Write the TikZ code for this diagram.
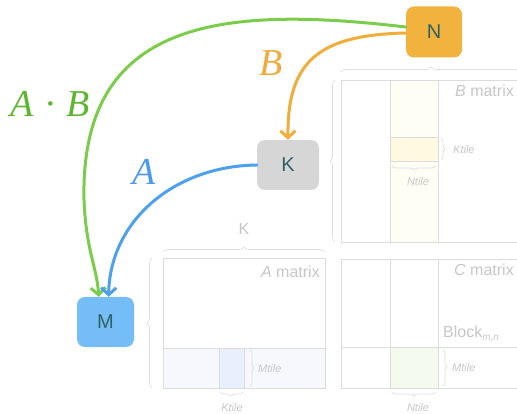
\documentclass[tikz,border=0pt]{standalone}
\usepackage{fontspec}
\setmainfont{Liberation Sans}
\newfontfamily\lblfont{Liberation Serif}
\usetikzlibrary{arrows.meta,decorations.pathreplacing}
\definecolor{nfill}{HTML}{F2B23E}
\definecolor{kfill}{HTML}{D6D6D6}
\definecolor{mfill}{HTML}{74BDF6}
\definecolor{nodetext}{HTML}{2E6263}
\definecolor{greenc}{HTML}{7ACC4A}
\definecolor{greenl}{HTML}{5DB532}
\definecolor{orangec}{HTML}{F0AD3A}
\definecolor{orangel}{HTML}{F2AA3C}
\definecolor{bluec}{HTML}{4DA0F0}
\definecolor{bluel}{HTML}{4A9BF0}
\definecolor{gline}{HTML}{DCDCDC}
\definecolor{bline}{HTML}{DEDEDE}
\definecolor{gtext}{HTML}{C6C6C6}
\definecolor{bcol}{HTML}{FFFEF4}
\definecolor{btile}{HTML}{FFF9E2}
\definecolor{arow}{HTML}{F6F8FE}
\definecolor{atile}{HTML}{E9EFFC}
\definecolor{ctile}{HTML}{F4FAEE}
\begin{document}
\begin{tikzpicture}[x=1pt,y=-1pt,
  box/.style={rounded corners=8pt, minimum width=56pt, minimum height=51pt, inner sep=0pt, text=nodetext, font=\fontsize{20}{20}\selectfont},
  frame/.style={draw=gline, line width=0.8pt},
  brc/.style={draw=bline, line width=0.7pt, decorate, decoration={brace, amplitude=5pt}},
  sbrc/.style={draw=bline, line width=0.7pt, decorate, decoration={brace, amplitude=4pt}},
  mlabel/.style={text=gtext, font=\fontsize{16}{16}\selectfont, inner sep=0pt, anchor=base east},
  tlabel/.style={text=gtext, font=\fontsize{11}{11}\selectfont\itshape, inner sep=0pt},
  conn/.style={line width=3pt, line cap=round, line join=round, -{Straight Barb[length=7pt,width=15pt]}},
  elabel/.style={font=\fontsize{38}{38}\selectfont\lblfont\itshape, inner sep=0pt}
]
\path[use as bounding box] (0,0) rectangle (517,414);
\begin{scope}
\clip (0,0) rectangle (517,414);
% B matrix
\fill[bcol] (390,80) rectangle (438,242);
\fill[btile] (390,137) rectangle (438,161);
\draw[frame] (341,80) rectangle (525,242);
\draw[frame] (390,80) -- (390,242) (438,80) -- (438,242);
\draw[frame] (390,137) -- (438,137) (390,161) -- (438,161);
% A matrix
\fill[arow] (163,348) rectangle (325,388);
\fill[atile] (219,348) rectangle (244,388);
\draw[frame] (163,258) rectangle (325,388);
\draw[frame] (163,348) -- (325,348) (219,348) -- (219,388) (244,348) -- (244,388);
% C matrix
\fill[ctile] (390,347) rectangle (438,388);
\draw[frame] (341,259) rectangle (525,388);
\draw[frame] (390,259) -- (390,388) (438,259) -- (438,388) (341,347) -- (525,347);
% braces
\draw[brc] (341,72) -- (521,72);
\draw[brc] (335,242) -- (335,80);
\draw[sbrc] (441,138) -- (441,160);
\draw[sbrc] (436,166) -- (392,166);
\draw[brc] (163,252) -- (325,252);
\draw[brc] (152,388) -- (152,258);
\draw[sbrc] (250,350) -- (250,386);
\draw[sbrc] (243,392) -- (220,392);
\draw[sbrc] (443,349) -- (443,386);
\draw[sbrc] (436,392) -- (392,392);
\end{scope}
% matrix texts
\node[mlabel] (tb) at (514,97) {\textit{B} matrix};
\node[mlabel] (ta) at (320,277) {\textit{A} matrix};
\node[mlabel] (tc) at (514,276) {\textit{C} matrix};
\node[text=gtext, font=\fontsize{16}{16}\selectfont, inner sep=0pt, anchor=base west] (blk) at (443,337) {Block\raisebox{-4pt}{\fontsize{10}{10}\selectfont\itshape m,n}};
\node[text=gtext, font=\fontsize{16}{16}\selectfont, inner sep=0pt] (tk) at (244,229) {K};
\node[tlabel, anchor=west] (bkt) at (453,150) {Ktile};
\node[tlabel] (bnt) at (418,182) {Ntile};
\node[tlabel, anchor=west] (amt) at (258,369) {Mtile};
\node[tlabel] (akt) at (232,408) {Ktile};
\node[tlabel, anchor=west] (cmt) at (452,368) {Mtile};
\node[tlabel] (cnt) at (418,408) {Ntile};
% nodes
\node[box, fill=nfill] (N) at (434,32) {N};
\node[box, fill=kfill, minimum width=62pt, minimum height=50pt] (K) at (288,165) {K};
\node[box, fill=mfill, minimum width=57pt, minimum height=50pt] (M) at (105.5,322) {M};
% connectors
\draw[conn, greenc] (N.170) .. controls (220,5) and (80,20) .. (84,200) .. controls (86,250) and (97,268) .. (M.105);
\draw[conn, orangec] (N.182) .. controls (320,35) and (287,60) .. (K.north);
\draw[conn, bluec] (K.west) .. controls (175,166) and (110,220) .. (M.83);
% edge labels
\node[elabel, text=greenl] (lab) at (50,104) {A\hspace{0.3em}·\hspace{0.3em}B};
\node[elabel, text=orangel] (lb) at (271,63) {B};
\node[elabel, text=bluel] (la) at (144,172) {A};
\end{tikzpicture}
\end{document}
